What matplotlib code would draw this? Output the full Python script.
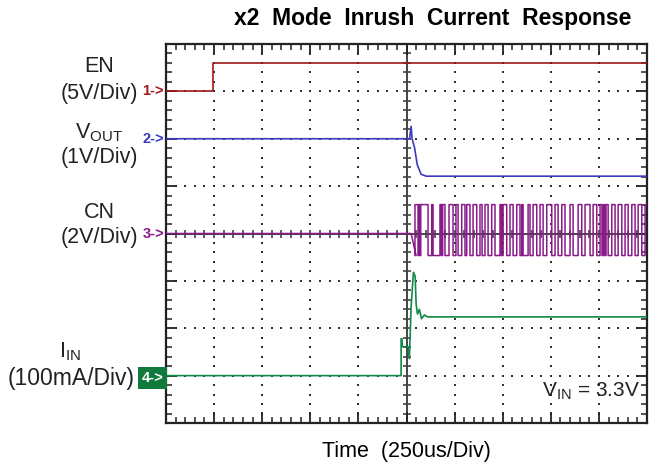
import numpy as np
import matplotlib
matplotlib.use("Agg")
import matplotlib.pyplot as plt
from matplotlib.ticker import MultipleLocator

plt.rcParams['font.family'] = ['Liberation Sans', 'DejaVu Sans']
plt.rcParams['mathtext.fontset'] = 'custom'
plt.rcParams['mathtext.rm'] = 'Liberation Sans'

# ---- data (time in us, values in channel units) ----
en_t = [0, 245, 245, 2500]
en_v = [0.0, 0.0, 3.0, 3.0]            # V, 5 V/div

vout_t = [0, 1266, 1274, 1279, 1292, 1306, 1326, 1352, 2500]
vout_v = [0.0, 0.0, 0.26, 0.0, -0.19, -0.55, -0.75, -0.79, -0.79]  # V, 1 V/div

cn_dip_t = [0, 1274, 1300]
cn_dip_v = [0.0, 0.0, -0.93]             # V, 2 V/div
cn_high = 1.22
cn_low = -0.93
cn_edges = [1294, 1310, 1315, 1320, 1324, 1362, 1381, 1388, 1424, 1432,
            1438, 1450, 1471, 1492, 1507, 1518, 1537, 1554, 1563, 1580,
            1596, 1615, 1632, 1643, 1658, 1674, 1693, 1710, 1736, 1744,
            1752, 1771, 1788, 1804, 1823, 1840, 1849, 1856, 1882, 1892,
            1908, 1927, 1944, 1960, 1979, 2005, 2022, 2038, 2057, 2074,
            2100, 2116, 2142, 2161, 2178, 2204, 2220, 2239, 2256, 2266,
            2274, 2282, 2287, 2298, 2317, 2334, 2350, 2369, 2386, 2402,
            2421, 2438, 2454, 2473, 2490]

iin_t = [0, 1222, 1222, 1226, 1229, 1262, 1265, 1274, 1286, 1295, 1300,
         1307, 1317, 1328, 1343, 1359, 2500]
iin_v = [0, 0, 78, 78, 61, 61, 36, 145, 218, 210, 151, 130, 140, 120,
         128, 124, 124]                  # mA, 100 mA/div

# channel scales (units/div) and marker offsets (div)
scales = {'en': 5.0, 'vout': 1.0, 'cn': 2.0, 'iin': 100.0}
offsets = {'en': 3.0, 'vout': 2.0, 'cn': 0.0, 'iin': -3.0}
tdiv = 250.0

fig = plt.figure(figsize=(6.53, 4.68), dpi=100)
ax = fig.add_axes([166/653, (468-423)/468, (647-166)/653, (423-44)/468])
ax.set_xlim(0, 10*tdiv)
ax.set_ylim(-4, 4)

def tr(v, ch):
    return np.asarray(v, float)/scales[ch] + offsets[ch]

# grid dots
gx, gy = [], []
for k in range(1, 10):
    if k == 5:
        continue
    for j in range(-20, 21):
        gx.append(k*tdiv); gy.append(j*0.2)
for k in range(-3, 4):
    if k == 0:
        continue
    for j in range(0, 51):
        gx.append(j*tdiv/5); gy.append(k)
ax.scatter(gx, gy, s=1.2, color='#333333', marker='s', linewidths=0, zorder=1)

# center lines with small ticks
ax.axhline(0, color='#444444', lw=1.4, zorder=1)
ax.axvline(5*tdiv, color='#444444', lw=1.4, zorder=1)
ax.scatter([j*tdiv/5 for j in range(1, 50)], [0]*49, marker='|', s=40,
           color='#444444', linewidths=1.2, zorder=1)
ax.scatter([5*tdiv]*39, [j*0.2 for j in range(-19, 20)], marker='_', s=40,
           color='#444444', linewidths=1.2, zorder=1)

# traces
ax.plot(en_t, tr(en_v, 'en'), color='#a01818', lw=1.2, zorder=3)
ax.plot(vout_t, tr(vout_v, 'vout'), color='#3a3ac0', lw=1.2, zorder=3)

cx = list(cn_dip_t)
cy = list(cn_dip_v)
level = cn_low
for e in cn_edges:
    cx += [e, e]
    nl = cn_high if level == cn_low else cn_low
    cy += [level, nl]
    level = nl
cx.append(2500); cy.append(level)
ax.plot(cx, tr(cy, 'cn'), color='#8a1a8a', lw=1.1, zorder=3)
ax.plot(iin_t, tr(iin_v, 'iin'), color='#108a48', lw=1.2, zorder=3)

# frame & ticks
for s in ax.spines.values():
    s.set_color('#222222'); s.set_linewidth(1.6)
ax.xaxis.set_major_locator(MultipleLocator(tdiv))
ax.xaxis.set_minor_locator(MultipleLocator(tdiv/5))
ax.yaxis.set_major_locator(MultipleLocator(1))
ax.yaxis.set_minor_locator(MultipleLocator(0.2))
ax.tick_params(which='both', direction='in', top=True, right=True,
               labelbottom=False, labelleft=False, color='#222222')
ax.tick_params(which='major', length=8, width=1.3)
ax.tick_params(which='minor', length=4, width=1.1)

# texts
fig.text(433/653, 1-18/468, 'x2  Mode  Inrush  Current  Response', ha='center',
         va='center', fontsize=16.5, fontweight='bold')
fig.text(406/653, 1-452/468, 'Time  (250us/Div)', ha='center', va='center',
         fontsize=15.5)

lab = dict(ha='center', va='center', fontsize=15.5, color='#222222')
fig.text(99/653, 1-67/468, 'EN', **lab)
fig.text(99/653, 1-93/468, '(5V/Div)', **lab)
fig.text(99/653, 1-133/468, r'V$_{\mathregular{OUT}}$', **lab)
fig.text(99/653, 1-158/468, '(1V/Div)', **lab)
fig.text(99/653, 1-213/468, 'CN', **lab)
fig.text(99/653, 1-237/468, '(2V/Div)', **lab)
fig.text(70/653, 1-352/468, r'I$_{\mathregular{IN}}$', **lab)
fig.text(71/653, 1-378/468, '(100mA/Div)', fontsize=16.5,
         ha='center', va='center', color='#222222')

mk = dict(ha='right', va='center', fontsize=10.5, fontweight='bold')
fig.text(164/653, 1-91/468, '1->', color='#a01818', **mk)
fig.text(164/653, 1-139/468, '2->', color='#3a3ac0', **mk)
fig.text(164/653, 1-234/468, '3->', color='#8a1a8a', **mk)
fig.text(163/653, 1-378/468, '4->', color='white',
         bbox=dict(boxstyle='square,pad=0.25', fc='#0f7a3c', ec='none'), **mk)

ax.text(0.985, 0.085, r'V$_{\mathregular{IN}}$ = 3.3V', transform=ax.transAxes,
        ha='right', va='center', fontsize=15, color='#222222')

fig.savefig('out.png', dpi=100)
